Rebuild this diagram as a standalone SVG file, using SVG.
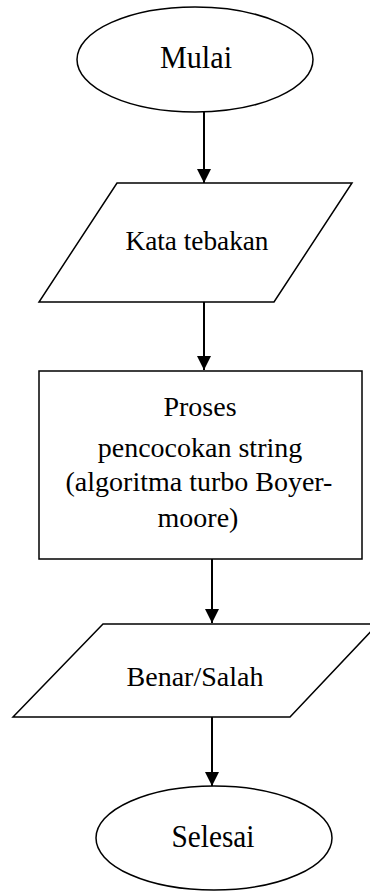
<svg xmlns="http://www.w3.org/2000/svg" width="370" height="891" viewBox="0 0 370 891">
<style>
.shape{fill:#fff;stroke:#000;stroke-width:1.5}
.lbl{font-family:"Liberation Serif","Times New Roman",serif;font-size:28px;fill:#000;text-anchor:middle}
.big{font-size:32px}
.conn{stroke:#000;stroke-width:2;fill:none}
</style>
<defs>
<marker id="arr" markerUnits="userSpaceOnUse" markerWidth="14" markerHeight="15" refX="14" refY="7" orient="auto" viewBox="0 0 14 14">
<path d="M0,0 L14,7 L0,14 Z" fill="#000"/>
</marker>
</defs>
<rect width="370" height="891" fill="#fff"/>
<g id="connectors">
<line class="conn" x1="204" y1="112" x2="204" y2="183" marker-end="url(#arr)"/>
<line class="conn" x1="204" y1="302" x2="204" y2="370" marker-end="url(#arr)"/>
<line class="conn" x1="212" y1="559" x2="212" y2="623" marker-end="url(#arr)"/>
<line class="conn" x1="212" y1="717" x2="212" y2="786" marker-end="url(#arr)"/>
</g>
<g id="mulai">
<ellipse class="shape" cx="195" cy="59.5" rx="118" ry="52.5"/>
<text class="lbl big" x="196" y="68" textLength="72" lengthAdjust="spacingAndGlyphs">Mulai</text>
</g>
<g id="kata-tebakan">
<polygon class="shape" points="117,183 352,183 274,302 39,302"/>
<text class="lbl" x="197" y="250" textLength="143" lengthAdjust="spacingAndGlyphs">Kata tebakan</text>
</g>
<g id="proses">
<rect class="shape" x="39" y="371" width="323" height="188"/>
<text class="lbl" x="200" y="416">Proses</text>
<text class="lbl" x="200" y="457">pencocokan string</text>
<text class="lbl" x="199" y="491">(algoritma turbo Boyer-</text>
<text class="lbl" x="198" y="527">moore)</text>
</g>
<g id="benar-salah">
<polygon class="shape" points="103,624 378,624 290,717 13,717"/>
<text class="lbl" x="195" y="686">Benar/Salah</text>
</g>
<g id="selesai">
<ellipse class="shape" cx="214" cy="838" rx="118" ry="52"/>
<text class="lbl big" x="213" y="847" textLength="83" lengthAdjust="spacingAndGlyphs">Selesai</text>
</g>
</svg>
